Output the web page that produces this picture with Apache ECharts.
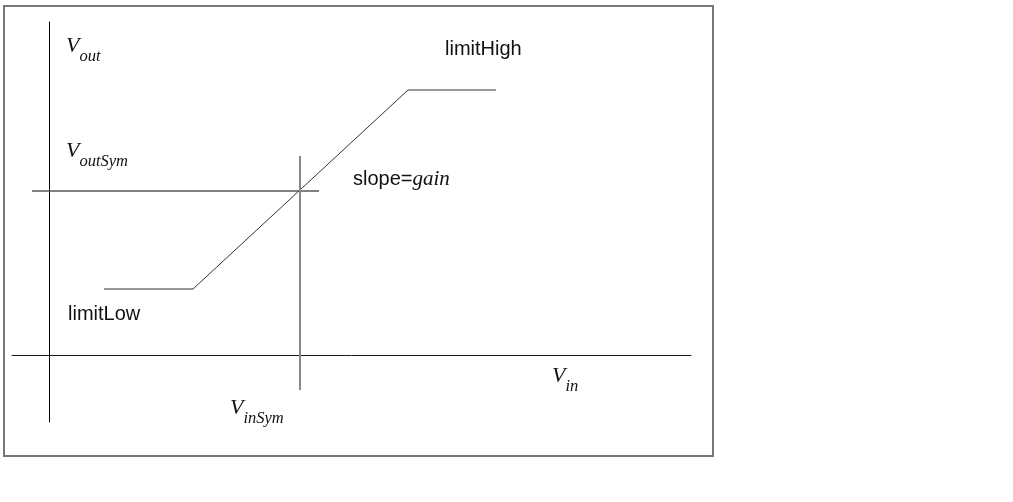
<!DOCTYPE html>
<html><head><meta charset="utf-8">
<script src="https://cdn.jsdelivr.net/npm/echarts@6/dist/echarts.min.js"></script>
<style>html,body{margin:0;padding:0;background:#fff}#c{width:1013px;height:502px}</style>
</head><body><div id="c"></div>
<script>
// Transfer characteristic (arbitrary units, origin at the axis crossing)
const transferVin  = [5.5, 14.4, 35.9, 44.7];
const transferVout = [6.6, 6.6, 26.5, 26.5];
const VinSym = 25.1;
const VoutSym = 16.4;
const symHLineVin  = [-1.7, 27.0];   // extent of the Vout = VoutSym guide
const symVLineVout = [19.9, -3.5];   // extent of the Vin = VinSym guide
const xRange = [-3.7, 64.2];
const yRange = [-6.7, 33.3];
// Annotation texts and their anchors (left edge, baseline) in data units
const labelText = ['{v|V}{s|out}', '{v|V}{s|outSym}', '{v|V}{s|in}', '{v|V}{s|inSym}',
                   '{t|limitHigh}', '{t|limitLow}', '{t|slope=}{g|gain}'];
const labelVin  = [1.7, 1.7, 50.3, 18.1, 39.6, 1.9, 30.4];
const labelVout = [30.2, 19.7, -2.8, -6.0, 29.8, 3.3, 16.8];

const chart = echarts.init(document.getElementById('c'), null, {renderer: 'canvas'});
const hidden = {axisTick: {show: false}, axisLabel: {show: false}, splitLine: {show: false}};
chart.setOption({
  animation: false,
  backgroundColor: '#fff',
  grid: {left: 12, right: 322, top: 22, bottom: 80},
  xAxis: Object.assign({type: 'value', min: xRange[0], max: xRange[1],
    axisLine: {show: true, onZero: true, lineStyle: {color: '#1a1a1a', width: 1}}}, hidden),
  yAxis: Object.assign({type: 'value', min: yRange[0], max: yRange[1],
    axisLine: {show: true, onZero: true, lineStyle: {color: '#000', width: 1}}}, hidden),
  series: [
    {type: 'line', symbol: 'none', data: transferVin.map((x, i) => [x, transferVout[i]]),
     lineStyle: {color: '#333', width: 1}},
    {type: 'line', symbol: 'none', data: symHLineVin.map(x => [x, VoutSym]),
     lineStyle: {color: '#555', width: 1.5}},
    {type: 'line', symbol: 'none', data: symVLineVout.map(y => [VinSym, y]),
     lineStyle: {color: '#888', width: 2}}
  ]
});

const serif = 'Liberation Serif', sans = 'Liberation Sans';
const rich = {
  v: {fontFamily: serif, fontStyle: 'italic', fontSize: 22, lineHeight: 24, verticalAlign: 'top', fill: '#111'},
  s: {fontFamily: serif, fontStyle: 'italic', fontSize: 16.5, lineHeight: 16, padding: [13, 0, 0, 0], verticalAlign: 'top', fill: '#111'},
  t: {fontFamily: sans, fontSize: 20, lineHeight: 24, verticalAlign: 'top', fill: '#111'},
  g: {fontFamily: serif, fontStyle: 'italic', fontSize: 21, lineHeight: 24, verticalAlign: 'top', fill: '#111'}
};
const graphics = [{
  type: 'rect', shape: {x: 4, y: 6, width: 709, height: 450},
  style: {fill: 'none', stroke: '#777', lineWidth: 2}, z: 10
}];
labelText.forEach((t, i) => {
  const p = chart.convertToPixel({gridIndex: 0}, [labelVin[i], labelVout[i]]);
  graphics.push({type: 'text', x: p[0], y: p[1] - 18, z: 10,
    style: {text: t, rich: rich, align: 'left', verticalAlign: 'top', fill: '#111'}});
});
chart.setOption({graphic: graphics});
</script></body></html>
